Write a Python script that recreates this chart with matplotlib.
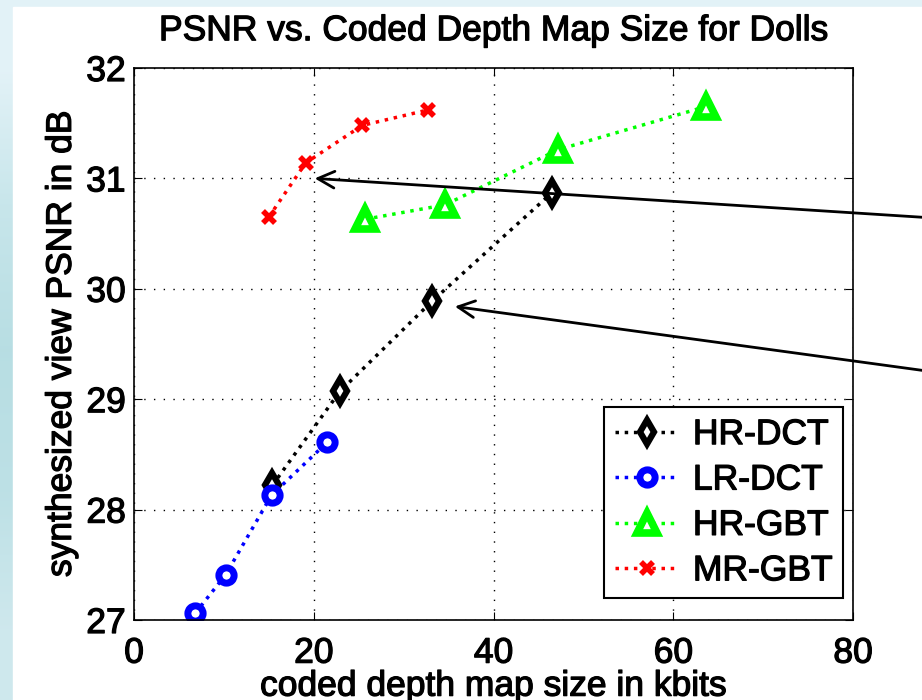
import numpy as np
import matplotlib
matplotlib.use('Agg')
import matplotlib.pyplot as plt
import matplotlib.patheffects as pe
from matplotlib.patches import Rectangle

plt.rcParams['font.family'] = ['Liberation Sans', 'DejaVu Sans']

# datos
hr_dct_x = [15.4, 22.9, 33.2, 46.5]
hr_dct_y = [28.22, 29.07, 29.89, 30.87]
lr_dct_x = [6.8, 10.2, 15.3, 21.5]
lr_dct_y = [27.06, 27.41, 28.13, 28.61]
hr_gbt_x = [25.7, 34.6, 47.2, 63.6]
hr_gbt_y = [30.63, 30.76, 31.26, 31.65]
mr_gbt_x = [15.0, 19.1, 25.4, 32.7]
mr_gbt_y = [30.65, 31.14, 31.48, 31.62]

etiquetas = ['HR-DCT', 'LR-DCT', 'HR-GBT', 'MR-GBT']

# flechas: punta (datos) y cola fuera de la figura
flecha_punta = [(20.1, 31.0), (35.7, 29.84)]
flecha_cola = [(95.0, 30.61), (95.0, 29.18)]

fs = 25.5
grueso = [pe.withStroke(linewidth=0.9, foreground='black')]

fig = plt.figure(figsize=(9.22, 7), dpi=100)

# fondo azul claro de la diapositiva
fondo = fig.add_axes([0, 0, 1, 1], zorder=-10)
grad = np.array([[0.89, 0.95, 0.97], [0.78, 0.90, 0.92], [0.72, 0.87, 0.89],
                 [0.74, 0.88, 0.90], [0.81, 0.91, 0.93]])
fondo.imshow(grad[:, None, :], aspect='auto', extent=[0, 1, 0, 1], interpolation='bilinear')
fondo.add_patch(Rectangle((13/922, 0), 1, 1 - 7/700, color='white'))
fondo.set_xlim(0, 1)
fondo.set_ylim(0, 1)
fondo.axis('off')

ax = fig.add_axes([134/922, 80/700, 719/922, 552/700])

ax.plot(hr_dct_x, hr_dct_y, ':', color='black', lw=2.5, marker='d', ms=12,
        mfc='white', mew=4.5, label=etiquetas[0])
ax.plot(lr_dct_x, lr_dct_y, ':', color='blue', lw=2.5, marker='o', ms=11,
        mfc='white', mew=5, label=etiquetas[1])
ax.plot(hr_gbt_x, hr_gbt_y, ':', color='#00ff00', lw=2.5, marker='^', ms=15,
        mfc='white', mew=5.5, label=etiquetas[2])
ax.plot(mr_gbt_x, mr_gbt_y, ':', color='red', lw=2.5, marker='x', ms=8,
        mew=4, label=etiquetas[3])

for punta, cola in zip(flecha_punta, flecha_cola):
    ax.annotate('', xy=punta, xytext=cola, annotation_clip=False,
                arrowprops=dict(arrowstyle='->', color='black', lw=2,
                                mutation_scale=30, shrinkA=0, shrinkB=0))

ax.set_xlim(0, 80)
ax.set_ylim(27, 32)
ax.set_xticks([0, 20, 40, 60, 80])
ax.set_yticks([27, 28, 29, 30, 31, 32])
ax.grid(True, color='black', linestyle=(0, (1, 6)), lw=1)
ax.tick_params(direction='in', top=True, right=True, length=6, labelsize=fs)
ax.tick_params(axis='x', pad=12)
ax.tick_params(axis='y', pad=6)
for s in ax.spines.values():
    s.set_linewidth(1.2)

ax.set_title('PSNR vs. Coded Depth Map Size for Dolls', fontsize=fs, pad=20)
ax.set_xlabel('coded depth map size in kbits', fontsize=fs, labelpad=0)
ax.set_ylabel('synthesized view PSNR in dB', fontsize=fs, labelpad=6)

leg = ax.legend(loc='lower right', bbox_to_anchor=(0.986, 0.04), borderaxespad=0,
                fontsize=fs, fancybox=False, edgecolor='black', framealpha=1,
                handlelength=1.8, labelspacing=0.35, borderpad=0.3, handletextpad=0.4)
leg.get_frame().set_linewidth(1.5)

textos = ax.get_xticklabels() + ax.get_yticklabels() + leg.get_texts()
textos += [ax.title, ax.xaxis.label, ax.yaxis.label]
for t in textos:
    t.set_path_effects(grueso)

fig.savefig('out.png', dpi=100)
